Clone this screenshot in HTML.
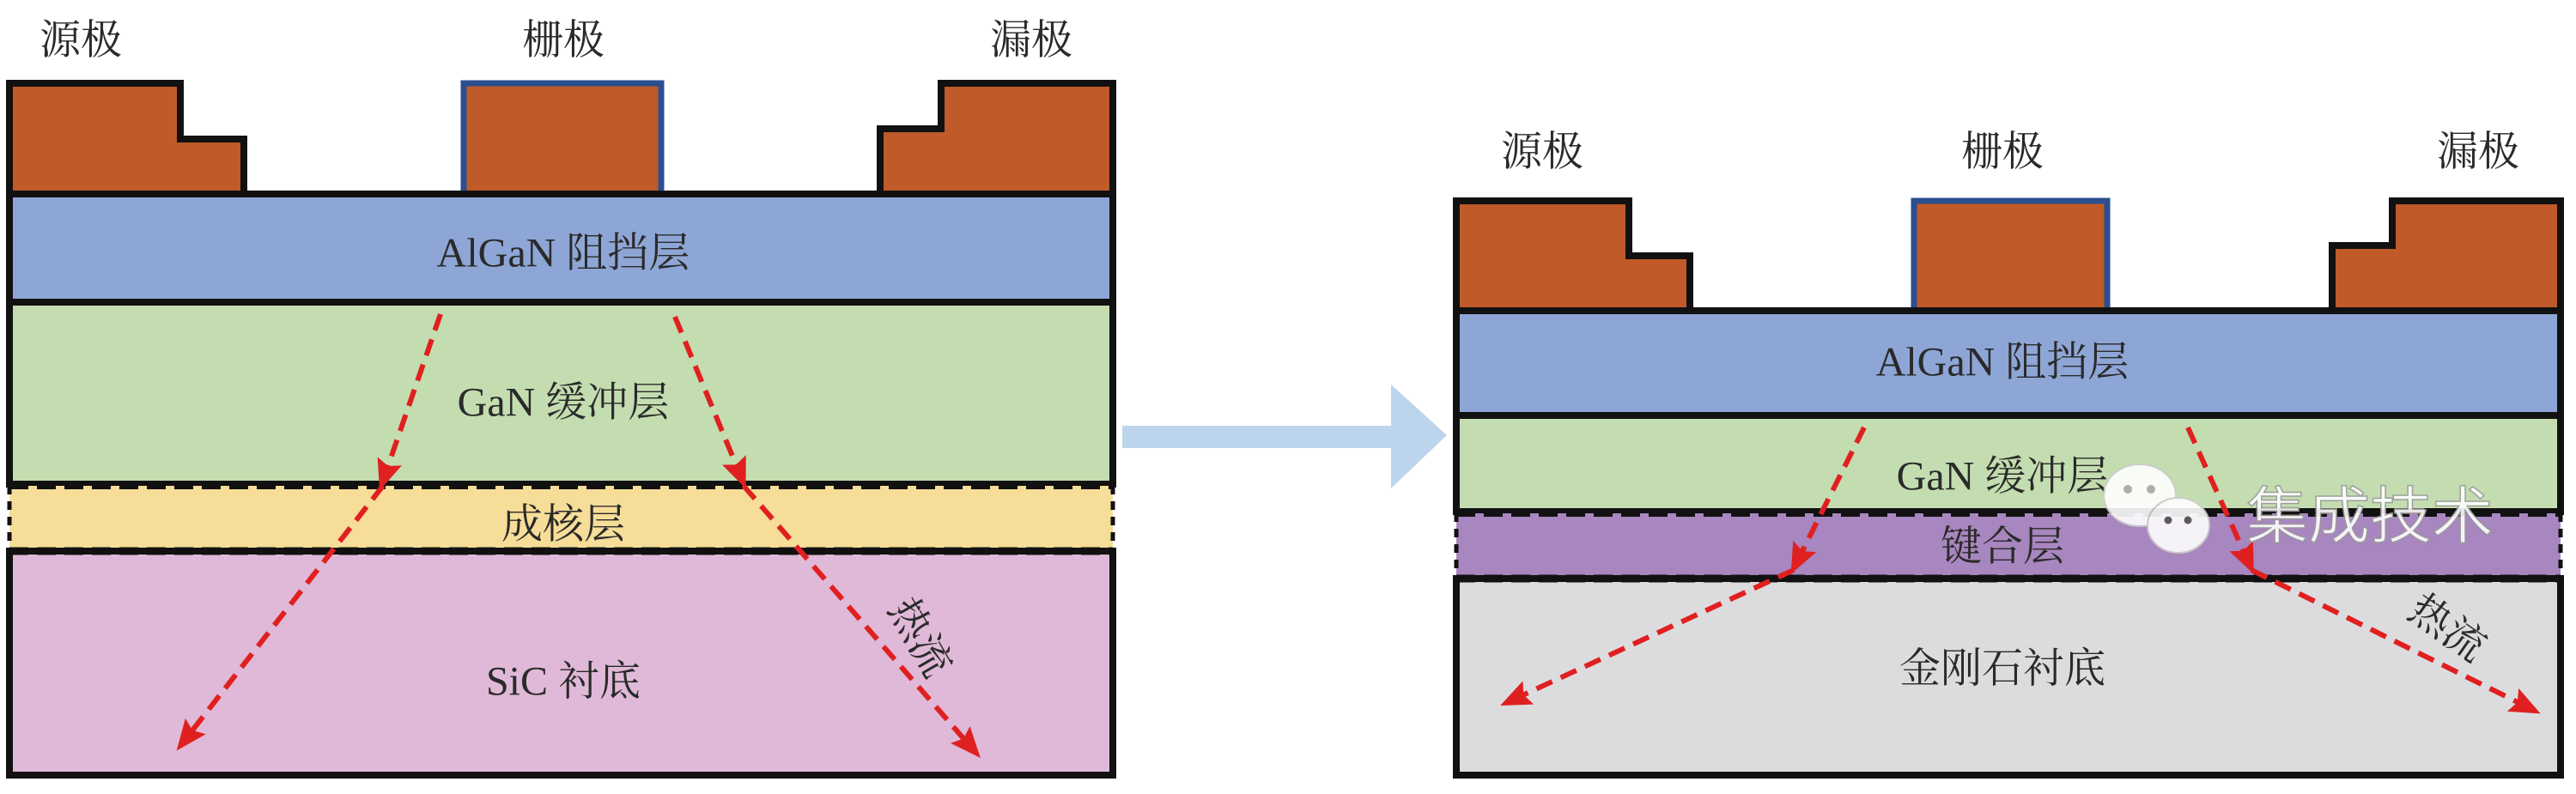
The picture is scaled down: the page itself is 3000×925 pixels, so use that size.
<!DOCTYPE html>
<html><head><meta charset="utf-8"><style>
html,body{margin:0;padding:0;background:#fff;}
svg{display:block}
text{font-family:"Liberation Serif","Noto Serif CJK SC",serif;fill:#2a2a2a;text-anchor:middle;dominant-baseline:central;}
</style></head><body>
<svg width="3000" height="925" viewBox="0 0 3000 925" xmlns="http://www.w3.org/2000/svg">
<defs>
<marker id="ah" markerWidth="6" markerHeight="5" refX="4" refY="2.5" orient="auto" markerUnits="strokeWidth">
<path d="M0,0 L6,2.5 L0,5 L1,2.5 z" fill="#e02020"/></marker>
</defs>

<!-- LEFT PANEL -->
<g font-size="48">
<text x="94" y="47">源极</text>
<text x="656" y="47">栅极</text>
<text x="1201" y="47">漏极</text>
</g>
<path d="M11,97 H210 V162 H284 V226 H11 Z" fill="#c05a28" stroke="#111" stroke-width="8"/>
<rect x="540" y="97" width="230" height="129" fill="#c05a28" stroke="#2b4f8f" stroke-width="7"/>
<path d="M1296,97 H1096 V150 H1025 V226 H1296 Z" fill="#c05a28" stroke="#111" stroke-width="8"/>
<rect x="11" y="226" width="1285" height="126" fill="#8ea6d6" stroke="#111" stroke-width="8"/>
<rect x="11" y="352" width="1285" height="212" fill="#c3ddb0" stroke="#111" stroke-width="8"/>
<rect x="11" y="566" width="1285" height="76" fill="#f6dd98"/>
<rect x="11" y="642" width="1285" height="261" fill="#dfb9d7" stroke="#111" stroke-width="8"/>
<line x1="11" y1="566" x2="1296" y2="566" stroke="#111" stroke-width="8" stroke-dasharray="22,10"/>
<line x1="11" y1="642" x2="1296" y2="642" stroke="#111" stroke-width="9" stroke-dasharray="22,10"/>
<line x1="11" y1="566" x2="11" y2="642" stroke="#111" stroke-width="5" stroke-dasharray="10,8"/>
<line x1="1296" y1="566" x2="1296" y2="642" stroke="#111" stroke-width="5" stroke-dasharray="10,8"/>
<g font-size="48">
<text x="656" y="295">AlGaN 阻挡层</text>
<text x="656" y="469">GaN 缓冲层</text>
<text x="656" y="611">成核层</text>
<text x="656" y="794">SiC 衬底</text>
<text x="1071" y="743" transform="rotate(60 1071 743)">热流</text>
</g>
<g stroke="#e02020" stroke-width="6" stroke-dasharray="20,11" fill="none">
<line x1="513" y1="366" x2="446" y2="560" marker-end="url(#ah)"/>
<line x1="446" y1="566" x2="213" y2="865" marker-end="url(#ah)"/>
<line x1="786" y1="369" x2="864" y2="558" marker-end="url(#ah)"/>
<line x1="866" y1="566" x2="1134" y2="874" marker-end="url(#ah)"/>
</g>

<!-- BIG ARROW -->
<path d="M1307,496 H1620 V448 L1685,507 L1620,569 V522 H1307 Z" fill="#bcd5ec"/>

<!-- RIGHT PANEL -->
<g font-size="48">
<text x="1796" y="177">源极</text>
<text x="2332" y="177">栅极</text>
<text x="2886" y="177">漏极</text>
</g>
<path d="M1696,234 H1897 V298 H1968 V362 H1696 Z" fill="#c05a28" stroke="#111" stroke-width="8"/>
<rect x="2229" y="234" width="225" height="128" fill="#c05a28" stroke="#2b4f8f" stroke-width="7"/>
<path d="M2982,234 H2786 V286 H2716 V362 H2982 Z" fill="#c05a28" stroke="#111" stroke-width="8"/>
<rect x="1696" y="362" width="1286" height="122" fill="#8ea6d6" stroke="#111" stroke-width="8"/>
<rect x="1696" y="484" width="1286" height="112" fill="#c3ddb0" stroke="#111" stroke-width="8"/>
<rect x="1696" y="598" width="1286" height="76" fill="#a886bf"/>
<rect x="1696" y="674" width="1286" height="229" fill="#dcdcde" stroke="#111" stroke-width="8"/>
<line x1="1696" y1="598" x2="2982" y2="598" stroke="#111" stroke-width="8" stroke-dasharray="22,10"/>
<line x1="1696" y1="674" x2="2982" y2="674" stroke="#111" stroke-width="9" stroke-dasharray="22,10"/>
<line x1="1696" y1="598" x2="1696" y2="674" stroke="#111" stroke-width="5" stroke-dasharray="10,8"/>
<line x1="2982" y1="598" x2="2982" y2="674" stroke="#111" stroke-width="5" stroke-dasharray="10,8"/>
<g font-size="48">
<text x="2332" y="422">AlGaN 阻挡层</text>
<text x="2332" y="555">GaN 缓冲层</text>
<text x="2332" y="637">键合层</text>
<text x="2332" y="779">金刚石衬底</text>
<text x="2850" y="732" transform="rotate(35 2850 732)">热流</text>
</g>
<g stroke="#e02020" stroke-width="6" stroke-dasharray="20,11" fill="none">
<line x1="2171" y1="498" x2="2091" y2="658" marker-end="url(#ah)"/>
<line x1="2089" y1="664" x2="1758" y2="817" marker-end="url(#ah)"/>
<line x1="2548" y1="498" x2="2620" y2="658" marker-end="url(#ah)"/>
<line x1="2622" y1="664" x2="2948" y2="826" marker-end="url(#ah)"/>
</g>

<!-- watermark -->
<g opacity="0.9">
<ellipse cx="2492" cy="577" rx="42" ry="36" fill="#fff" stroke="#ccc" stroke-width="2"/>
<circle cx="2478" cy="570" r="5" fill="#aaa"/><circle cx="2505" cy="570" r="5" fill="#aaa"/>
<ellipse cx="2537" cy="612" rx="36" ry="32" fill="#fff" stroke="#ccc" stroke-width="2"/>
<circle cx="2525" cy="606" r="4.5" fill="#555"/><circle cx="2548" cy="606" r="4.5" fill="#555"/>
<text x="2760" y="595" font-size="72" style="font-family:'Noto Sans CJK SC',sans-serif;fill:#fff;stroke:#999;stroke-width:1.5">集成技术</text>
</g>
</svg>
</body></html>
